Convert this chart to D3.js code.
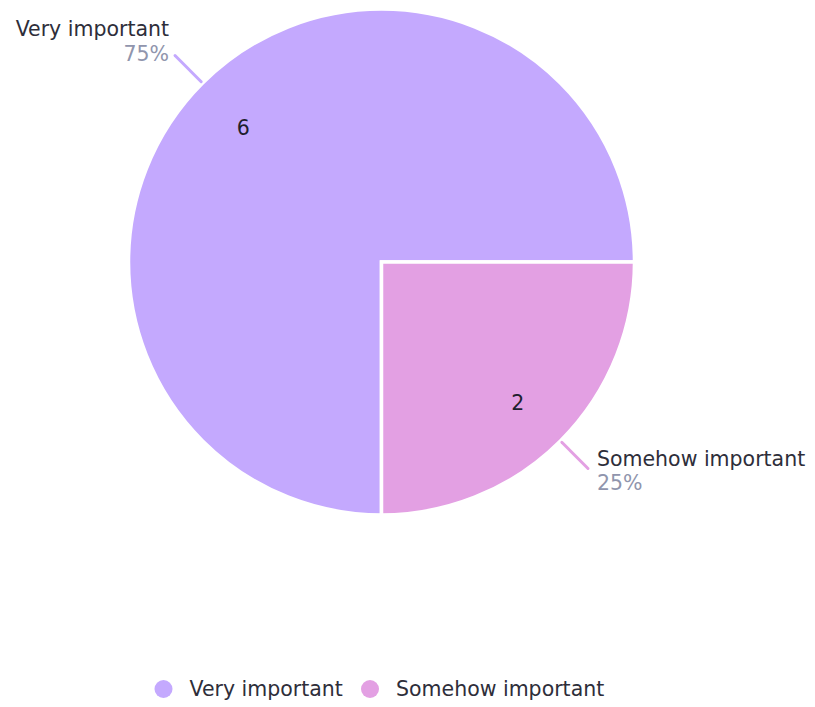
<!DOCTYPE html>
<html>
<head>
<meta charset="utf-8">
<script src="https://cdn.jsdelivr.net/npm/d3@7"></script>
<style>
  html, body { margin: 0; padding: 0; background: #fff; }
  svg { display: block; font-family: "DejaVu Sans", Verdana, sans-serif; }
</style>
</head>
<body>
<svg id="chart" width="815" height="707"></svg>
<script>
const categories = ["Very important", "Somehow important"];
const values = [6, 2];
const colors = ["#c4a9fe", "#e3a0e3"];
const pctLabels = ["75%", "25%"];

const svg = d3.select("#chart");
const cx = 381.5, cy = 262, R = 253;

const data = categories.map((c, i) => ({ name: c, value: values[i], color: colors[i], pct: pctLabels[i] }));

const pie = d3.pie().value(d => d.value).sort(null)
  .startAngle(Math.PI).endAngle(3 * Math.PI);
const arcs = pie(data);

const arc = d3.arc().innerRadius(0).outerRadius(R);
const labelArc = d3.arc().innerRadius(194).outerRadius(194);

const g = svg.append("g").attr("transform", `translate(${cx},${cy})`);

g.selectAll("path.slice").data(arcs).enter().append("path")
  .attr("class", "slice")
  .attr("d", arc)
  .attr("fill", d => d.data.color)
  .attr("stroke", "#fff")
  .attr("stroke-width", 3.5)
  .attr("stroke-linejoin", "miter");

g.selectAll("text.val").data(arcs).enter().append("text")
  .attr("class", "val")
  .attr("transform", d => { const c = labelArc.centroid(d); return `translate(${c[0] - 1},${c[1] + 3})`; })
  .attr("text-anchor", "middle")
  .attr("dy", "0.36em")
  .attr("font-size", 20.5)
  .attr("fill", "#1f1f2e")
  .text(d => d.data.value);

// leader lines
arcs.forEach(d => {
  const a = (d.startAngle + d.endAngle) / 2;
  const sx = Math.sin(a), sy = -Math.cos(a);
  const p0 = [sx * (R + 2), sy * (R + 2)];
  const p1 = [sx * 292, sy * 292];
  g.append("line")
    .attr("x1", p0[0]).attr("y1", p0[1])
    .attr("x2", p1[0]).attr("y2", p1[1])
    .attr("stroke", d.data.color)
    .attr("stroke-width", 3)
    .attr("stroke-linecap", "round");
  const left = sx < 0;
  const tx = left ? p1[0] - 6 : p1[0] + 9;
  const anchor = left ? "end" : "start";
  const nameY = left ? p1[1] - 20 : p1[1] - 2;
  const pctY = left ? p1[1] + 5 : p1[1] + 22;
  g.append("text")
    .attr("x", tx).attr("y", nameY)
    .attr("text-anchor", anchor)
    .attr("font-size", 20.5)
    .attr("fill", "#2e2e3a")
    .text(d.data.name);
  g.append("text")
    .attr("x", tx).attr("y", pctY)
    .attr("text-anchor", anchor)
    .attr("font-size", 20.5)
    .attr("fill", "#9095ad")
    .text(d.data.pct);
});

// legend
const legend = svg.append("g").attr("transform", "translate(0,689)");
const legX = [163.5, 370];
categories.forEach((c, i) => {
  legend.append("circle").attr("cx", legX[i]).attr("cy", 0).attr("r", 9).attr("fill", colors[i]);
  legend.append("text").attr("x", legX[i] + 26).attr("y", 0)
    .attr("dy", "0.36em")
    .attr("font-size", 20.5)
    .attr("fill", "#2e2e3a")
    .text(c);
});
</script>
</body>
</html>
